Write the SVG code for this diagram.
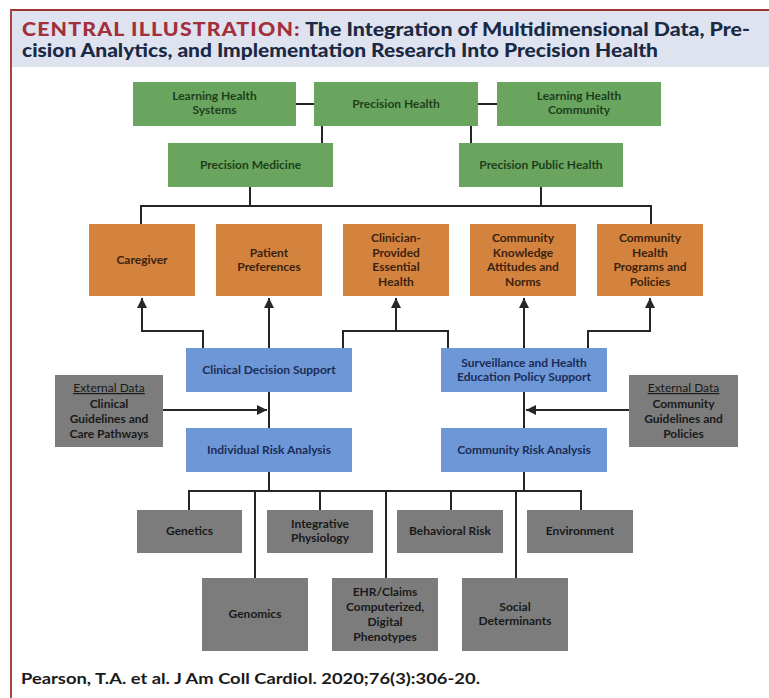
<svg xmlns="http://www.w3.org/2000/svg" width="769" height="698" viewBox="0 0 769 698">
<defs>
<style>
.t{font-family:Lato,"Liberation Sans",sans-serif;font-weight:bold;font-size:12px;text-anchor:middle}
.u{font-weight:normal;text-decoration:underline}
.g rect{fill:#6aa55f}.g text{fill:#1e3f1c}
.o rect{fill:#d4833f}.o text{fill:#3a220e}
.b rect{fill:#6e97d8}.b text{fill:#1b2c55}
.k rect{fill:#7c7c7c}.k text{fill:#191919}
.c{fill:none;stroke:#262626;stroke-width:2}
</style>
<marker id="ah" viewBox="0 0 10 10" refX="10" refY="5" markerWidth="5" markerHeight="5" orient="auto" markerUnits="strokeWidth">
<path d="M0,0 L10,5 L0,10 z" fill="#262626"/>
</marker>
</defs>
<rect x="0" y="0" width="769" height="698" fill="#ffffff"/>
<rect x="11" y="10" width="758" height="57" fill="#dfe3f0"/>
<line x1="10" y1="10" x2="769" y2="10" stroke="#9e3434" stroke-width="2"/>
<line x1="11" y1="9" x2="11" y2="698" stroke="#a44545" stroke-width="2"/>
<text x="22" y="36" font-family="Lato,'Liberation Sans',sans-serif" font-weight="900" font-size="19" textLength="728" lengthAdjust="spacingAndGlyphs"><tspan fill="#a2303c" letter-spacing="1">CENTRAL ILLUSTRATION:</tspan><tspan fill="#1b2a44"> The Integration of Multidimensional Data, Pre-</tspan></text>
<text x="22" y="57" font-family="Lato,'Liberation Sans',sans-serif" font-weight="900" font-size="19" fill="#1b2a44" textLength="636" lengthAdjust="spacingAndGlyphs">cision Analytics, and Implementation Research Into Precision Health</text>

<g id="connectors">
<path class="c" d="M296,104 H314 M478,104 H497 M322,126 V143 M471,126 V143"/>
<path class="c" d="M250,187 V206 M541,187 V206 M141,224 V206 H651 V224"/>
<path class="c" marker-end="url(#ah)" d="M203,348 V331 H142 V298"/>
<path class="c" marker-end="url(#ah)" d="M269,348 V298"/>
<path class="c" d="M343,348 V331 H448 V348"/>
<path class="c" marker-end="url(#ah)" d="M396,331 V298"/>
<path class="c" marker-end="url(#ah)" d="M524,348 V298"/>
<path class="c" marker-end="url(#ah)" d="M588,348 V331 H650 V298"/>
<path class="c" d="M269,392 V428 M524,392 V428"/>
<path class="c" marker-end="url(#ah)" d="M163,410 H267"/>
<path class="c" marker-end="url(#ah)" d="M629,410 H526"/>
<path class="c" d="M269,472 V491 M524,472 V491 M189,510 V491 H581 V510 M255,491 V578 M320,491 V510 M386,491 V578 M451,491 V510 M516,491 V578"/>
</g>

<g id="learning-health-systems" class="g"><rect x="133" y="82" width="163" height="44"/><text class="t" x="214.5" y="100">Learning Health</text><text class="t" x="214.5" y="114">Systems</text></g>
<g id="precision-health" class="g"><rect x="314" y="82" width="164" height="44"/><text class="t" x="396" y="108">Precision Health</text></g>
<g id="learning-health-community" class="g"><rect x="497" y="82" width="164" height="44"/><text class="t" x="579" y="100">Learning Health</text><text class="t" x="579" y="114">Community</text></g>
<g id="precision-medicine" class="g"><rect x="168" y="143" width="165" height="44"/><text class="t" x="250.5" y="169">Precision Medicine</text></g>
<g id="precision-public-health" class="g"><rect x="459" y="143" width="164" height="44"/><text class="t" x="541" y="169">Precision Public Health</text></g>

<g id="caregiver" class="o"><rect x="89" y="224" width="106" height="72"/><text class="t" x="142" y="264">Caregiver</text></g>
<g id="patient-preferences" class="o"><rect x="216" y="224" width="106" height="72"/><text class="t" x="269" y="257">Patient</text><text class="t" x="269" y="271">Preferences</text></g>
<g id="clinician-provided" class="o"><rect x="343" y="224" width="106" height="72"/><text class="t" x="396" y="242">Clinician-</text><text class="t" x="396" y="256.5">Provided</text><text class="t" x="396" y="271">Essential</text><text class="t" x="396" y="285.5">Health</text></g>
<g id="community-knowledge" class="o"><rect x="470" y="224" width="106" height="72"/><text class="t" x="523" y="242">Community</text><text class="t" x="523" y="256.5">Knowledge</text><text class="t" x="523" y="271">Attitudes and</text><text class="t" x="523" y="285.5">Norms</text></g>
<g id="community-health-programs" class="o"><rect x="597" y="224" width="106" height="72"/><text class="t" x="650" y="242">Community</text><text class="t" x="650" y="256.5">Health</text><text class="t" x="650" y="271">Programs and</text><text class="t" x="650" y="285.5">Policies</text></g>

<g id="clinical-decision-support" class="b"><rect x="186" y="348" width="166" height="44"/><text class="t" x="269" y="374">Clinical Decision Support</text></g>
<g id="surveillance-policy-support" class="b"><rect x="441" y="348" width="166" height="44"/><text class="t" x="524" y="367">Surveillance and Health</text><text class="t" x="524" y="381">Education Policy Support</text></g>
<g id="individual-risk-analysis" class="b"><rect x="186" y="428" width="166" height="44"/><text class="t" x="269" y="454">Individual Risk Analysis</text></g>
<g id="community-risk-analysis" class="b"><rect x="441" y="428" width="166" height="44"/><text class="t" x="524" y="454">Community Risk Analysis</text></g>

<g id="external-data-clinical" class="k"><rect x="55" y="375" width="108" height="72"/><text class="t u" x="109" y="392">External Data</text><text class="t" x="109" y="408">Clinical</text><text class="t" x="109" y="423">Guidelines and</text><text class="t" x="109" y="438">Care Pathways</text></g>
<g id="external-data-community" class="k"><rect x="629" y="375" width="109" height="72"/><text class="t u" x="683.5" y="392">External Data</text><text class="t" x="683.5" y="408">Community</text><text class="t" x="683.5" y="423">Guidelines and</text><text class="t" x="683.5" y="438">Policies</text></g>

<g id="genetics" class="k"><rect x="137" y="510" width="105" height="43"/><text class="t" x="189.5" y="535">Genetics</text></g>
<g id="integrative-physiology" class="k"><rect x="267" y="510" width="106" height="43"/><text class="t" x="320" y="528">Integrative</text><text class="t" x="320" y="542">Physiology</text></g>
<g id="behavioral-risk" class="k"><rect x="397" y="510" width="106" height="43"/><text class="t" x="450" y="535">Behavioral Risk</text></g>
<g id="environment" class="k"><rect x="527" y="510" width="106" height="43"/><text class="t" x="580" y="535">Environment</text></g>
<g id="genomics" class="k"><rect x="202" y="578" width="106" height="73"/><text class="t" x="255" y="618">Genomics</text></g>
<g id="ehr-claims" class="k"><rect x="332" y="578" width="106" height="73"/><text class="t" x="385" y="596">EHR/Claims</text><text class="t" x="385" y="611">Computerized,</text><text class="t" x="385" y="626">Digital</text><text class="t" x="385" y="641">Phenotypes</text></g>
<g id="social-determinants" class="k"><rect x="462" y="578" width="106" height="73"/><text class="t" x="515" y="611">Social</text><text class="t" x="515" y="625">Determinants</text></g>

<text x="21" y="684" font-family="Lato,'Liberation Sans',sans-serif" font-weight="bold" font-size="15" fill="#1a1a1a" textLength="459" lengthAdjust="spacingAndGlyphs">Pearson, T.A. et al. J Am Coll Cardiol. 2020;76(3):306-20.</text>
</svg>
